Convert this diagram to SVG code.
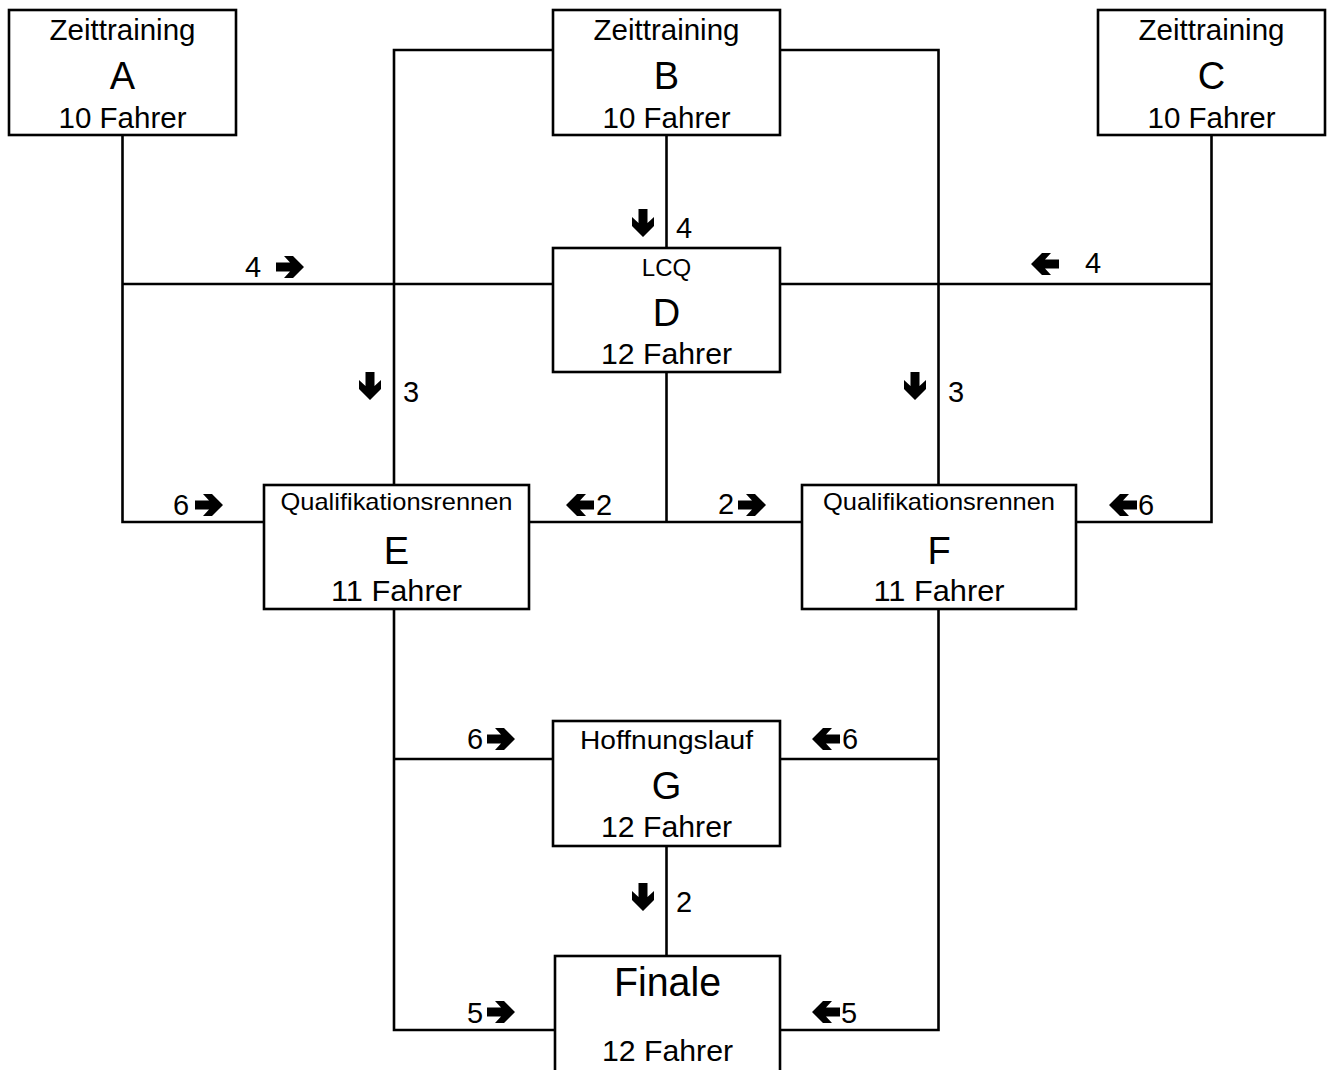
<svg xmlns="http://www.w3.org/2000/svg" width="1331" height="1070" viewBox="0 0 1331 1070">
<style>
.box{fill:#fff;stroke:#000;stroke-width:2.6}
.ln{fill:none;stroke:#000;stroke-width:2.6}
text{font-family:"Liberation Sans",Arial,sans-serif;fill:#000;text-anchor:middle}
.t{font-size:29px}
.big{font-size:38px}
.n{font-size:29px}
.lb{font-size:29px;text-anchor:start}
</style>
<defs>
<path id="ar" d="M-14,-4.5 H0 L-6,-11 H3 L14,0 L3,11 H-6 L0,4.5 H-14 Z" fill="#000"/>
</defs>
<g id="connectors">
<path class="ln" d="M122.5,135 V522 H264"/>
<path class="ln" d="M122.5,284 H553"/>
<path class="ln" d="M553,50 H394 V485"/>
<path class="ln" d="M780,50 H938.5 V485"/>
<path class="ln" d="M666.5,135 V248"/>
<path class="ln" d="M1211.5,135 V522 H1076"/>
<path class="ln" d="M780,284 H1211.5"/>
<path class="ln" d="M666.5,372 V522"/>
<path class="ln" d="M529,522 H802"/>
<path class="ln" d="M394,609 V1030 H555"/>
<path class="ln" d="M394,759 H553"/>
<path class="ln" d="M938.5,609 V1030 H780"/>
<path class="ln" d="M780,759 H938.5"/>
<path class="ln" d="M666.5,846 V956"/>
</g>
<g id="labels">
<text class="lb" x="245" y="277">4</text>
<use href="#ar" transform="translate(290,267)"/>
<use href="#ar" transform="translate(643,223) rotate(90)"/>
<text class="lb" x="676" y="238">4</text>
<use href="#ar" transform="translate(1045,264) rotate(180)"/>
<text class="lb" x="1085" y="273">4</text>
<use href="#ar" transform="translate(370,386) rotate(90)"/>
<text class="lb" x="403" y="402">3</text>
<use href="#ar" transform="translate(915,386) rotate(90)"/>
<text class="lb" x="948" y="402">3</text>
<text class="lb" x="173" y="515">6</text>
<use href="#ar" transform="translate(209,505)"/>
<use href="#ar" transform="translate(580,505) rotate(180)"/>
<text class="lb" x="596" y="515">2</text>
<text class="lb" x="718" y="514">2</text>
<use href="#ar" transform="translate(752,505)"/>
<use href="#ar" transform="translate(1123,505) rotate(180)"/>
<text class="lb" x="1138" y="515">6</text>
<text class="lb" x="467" y="749">6</text>
<use href="#ar" transform="translate(501,739)"/>
<use href="#ar" transform="translate(826,739) rotate(180)"/>
<text class="lb" x="842" y="749">6</text>
<use href="#ar" transform="translate(643,897) rotate(90)"/>
<text class="lb" x="676" y="912">2</text>
<text class="lb" x="467" y="1023">5</text>
<use href="#ar" transform="translate(501,1012)"/>
<use href="#ar" transform="translate(826,1012) rotate(180)"/>
<text class="lb" x="841" y="1023">5</text>
</g>
<g id="nodeA">
<rect class="box" x="9" y="10" width="227" height="125"/>
<text class="t" x="122.5" y="40" textLength="146" lengthAdjust="spacingAndGlyphs">Zeittraining</text>
<text class="big" x="122.5" y="89">A</text>
<text class="n" x="122.5" y="128" textLength="128" lengthAdjust="spacingAndGlyphs">10 Fahrer</text>
</g>
<g id="nodeB">
<rect class="box" x="553" y="10" width="227" height="125"/>
<text class="t" x="666.5" y="40" textLength="146" lengthAdjust="spacingAndGlyphs">Zeittraining</text>
<text class="big" x="666.5" y="89">B</text>
<text class="n" x="666.5" y="128" textLength="128" lengthAdjust="spacingAndGlyphs">10 Fahrer</text>
</g>
<g id="nodeC">
<rect class="box" x="1098" y="10" width="227" height="125"/>
<text class="t" x="1211.5" y="40" textLength="146" lengthAdjust="spacingAndGlyphs">Zeittraining</text>
<text class="big" x="1211.5" y="89">C</text>
<text class="n" x="1211.5" y="128" textLength="128" lengthAdjust="spacingAndGlyphs">10 Fahrer</text>
</g>
<g id="nodeD">
<rect class="box" x="553" y="248" width="227" height="124"/>
<text x="666.5" y="276" style="font-size:24px">LCQ</text>
<text class="big" x="666.5" y="326">D</text>
<text class="n" x="666.5" y="364" textLength="131" lengthAdjust="spacingAndGlyphs">12 Fahrer</text>
</g>
<g id="nodeE">
<rect class="box" x="264" y="485" width="265" height="124"/>
<text x="396.5" y="510" style="font-size:24px" textLength="232" lengthAdjust="spacingAndGlyphs">Qualifikationsrennen</text>
<text class="big" x="396.5" y="564">E</text>
<text class="n" x="396.5" y="601" textLength="131" lengthAdjust="spacingAndGlyphs">11 Fahrer</text>
</g>
<g id="nodeF">
<rect class="box" x="802" y="485" width="274" height="124"/>
<text x="939" y="510" style="font-size:24px" textLength="232" lengthAdjust="spacingAndGlyphs">Qualifikationsrennen</text>
<text class="big" x="939" y="564">F</text>
<text class="n" x="939" y="601" textLength="131" lengthAdjust="spacingAndGlyphs">11 Fahrer</text>
</g>
<g id="nodeG">
<rect class="box" x="553" y="721" width="227" height="125"/>
<text x="666.5" y="749" style="font-size:26px" textLength="173" lengthAdjust="spacingAndGlyphs">Hoffnungslauf</text>
<text class="big" x="666.5" y="799">G</text>
<text class="n" x="666.5" y="837" textLength="131" lengthAdjust="spacingAndGlyphs">12 Fahrer</text>
</g>
<g id="nodeFinale">
<rect class="box" x="555" y="956" width="225" height="130"/>
<text x="667.5" y="996" style="font-size:40px" textLength="107" lengthAdjust="spacingAndGlyphs">Finale</text>
<text class="n" x="667.5" y="1061" textLength="131" lengthAdjust="spacingAndGlyphs">12 Fahrer</text>
</g>
</svg>
